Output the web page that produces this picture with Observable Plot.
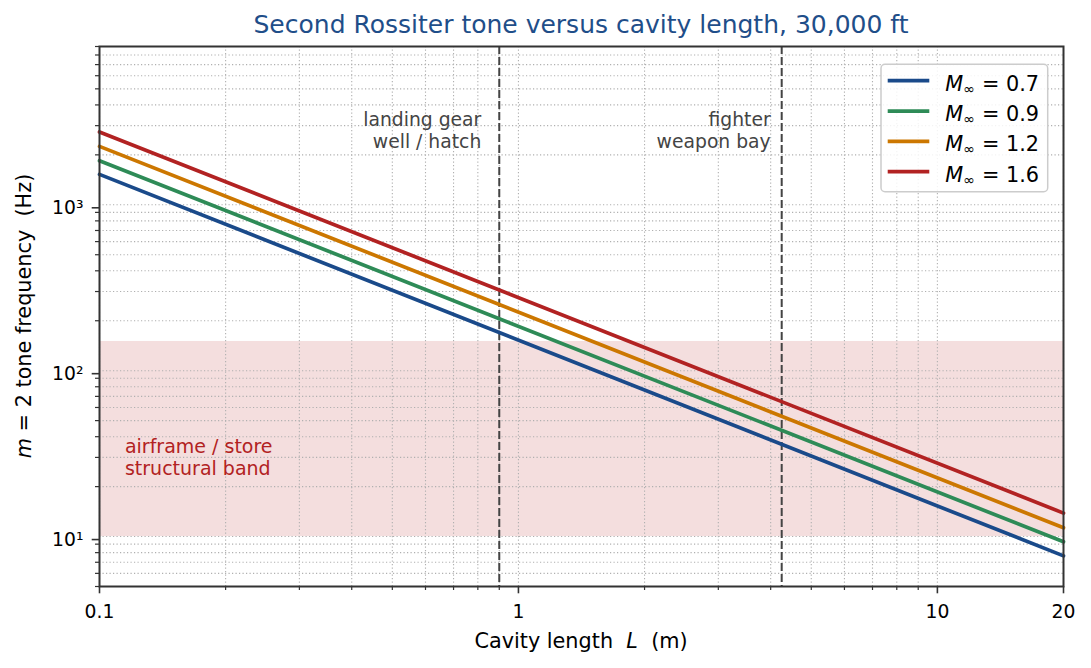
<!DOCTYPE html>
<html>
<head>
<meta charset="utf-8">
<script src="https://cdn.jsdelivr.net/npm/d3@7"></script>
<script src="https://cdn.jsdelivr.net/npm/@observablehq/plot@0.6"></script>
<style>
body { margin: 0; background: white; font-family: "DejaVu Sans", sans-serif; }
#title { height: 40px; box-sizing: border-box; padding: 10px 28px 0 99px; text-align: center;
  font-size: 25px; line-height: 1.164; color: #1f4e89; white-space: nowrap; }
</style>
</head>
<body>
<div id="title">Second Rossiter tone versus cavity length, 30,000 ft</div>
<div id="chart"></div>
<script>
// series (tone frequency in Hz at both ends of the L range)
const machLabels = ["0.7", "0.9", "1.2", "1.6"];
const lineColors = ["#1a4a8a", "#2e8b57", "#cc7700", "#b22222"];
const lengthEnds = [0.1, 20];
const freqAtShort = [1525, 1845, 2250, 2750];
const freqAtLong = [7.65, 9.3, 11.3, 13.85];

// reference cavities and structural band
const refLengths = [0.9, 4.25];
const refLabels = ["landing gear\nwell / hatch", "fighter\nweapon bay"];
const bandRange = [10, 150];
const bandLabel = "airframe / store\nstructural band";
const bandLabelAt = [0.115, 30];

// ticks
const xMajor = [0.1, 1, 10, 20];
const xMinor = [0.2, 0.3, 0.4, 0.5, 0.6, 0.7, 0.8, 0.9, 2, 3, 4, 5, 6, 7, 8, 9];
const yMajor = [10, 100, 1000];
const yMinor = [5, 6, 7, 8, 9, 20, 30, 40, 50, 60, 70, 80, 90,
  200, 300, 400, 500, 600, 700, 800, 900, 2000, 3000, 4000, 5000, 6000, 7000, 8000, 9000];

const rows = machLabels.flatMap((m, i) => [
  {mach: m, L: lengthEnds[0], f: freqAtShort[i]},
  {mach: m, L: lengthEnds[1], f: freqAtLong[i]}
]);

const sup = {1: "\u00b9", 2: "\u00b2", 3: "\u00b3"};
const gridStyle = {stroke: "#b0b0b0", strokeOpacity: 1, strokeWidth: 1.1, strokeDasharray: "1.2,2.3"};
const dx = [-18, -11];

const chart = Plot.plot({
  width: 1091,
  height: 628,
  marginTop: 6,
  marginRight: 28,
  marginBottom: 82,
  marginLeft: 99,
  style: {fontFamily: "DejaVu Sans", fontSize: "18.75px", color: "black", background: "white"},
  x: {type: "log", domain: [0.1, 20]},
  y: {type: "log", domain: [5, 9000]},
  color: {type: "ordinal", domain: machLabels, range: lineColors},
  marks: [
    Plot.rect([bandRange], {y1: d => d[0], y2: d => d[1], fill: "#b22222", fillOpacity: 0.15}),
    Plot.gridX([...xMajor, ...xMinor], gridStyle),
    Plot.gridY([...yMajor, ...yMinor], gridStyle),
    Plot.ruleX(refLengths, {stroke: "#444", strokeWidth: 2, strokeDasharray: "8,3"}),
    Plot.line(rows, {x: "L", y: "f", z: "mach", stroke: "mach", strokeWidth: 3.7}),
    ...refLabels.map((t, i) => Plot.text([t], {
      x: [refLengths[i]], frameAnchor: "top", dy: 64, dx: dx[i],
      textAnchor: "end", lineAnchor: "top", lineHeight: 1.157, fill: "#444", fontSize: 18.75
    })),
    Plot.text([bandLabel], {
      x: [bandLabelAt[0]], y: [bandLabelAt[1]], textAnchor: "start", lineAnchor: "middle",
      lineHeight: 1.157, fill: "#b22222", fontSize: 19
    }),
    Plot.axisX(xMajor, {tickSize: 7.3, tickPadding: 11, tickFormat: d => String(d), label: null,
      stroke: "#333", strokeWidth: 1.6, fill: "black", fontSize: 18.75}),
    Plot.axisX(xMinor, {tickSize: 4, tickFormat: () => "", label: null, stroke: "#333", strokeWidth: 1.2}),
    Plot.axisY(yMajor, {tickSize: 7.3, tickPadding: 8.7, dy: 3, label: null,
      tickFormat: d => "10" + sup[Math.round(Math.log10(d))],
      stroke: "#333", strokeWidth: 1.6, fill: "black", fontSize: 18.75}),
    Plot.axisY(yMinor, {tickSize: 4, tickFormat: () => "", label: null, stroke: "#333", strokeWidth: 1.2}),
    Plot.frame({stroke: "#333", strokeWidth: 2})
  ]
});

d3.select("#chart").append(() => chart);

const svg = d3.select(chart);

// axis labels
const xl = svg.append("text")
  .attr("x", 581).attr("y", 608.3)
  .attr("text-anchor", "middle")
  .style("font-size", "20.8px").style("white-space", "pre").attr("fill", "black");
xl.append("tspan").text("Cavity length  ");
xl.append("tspan").attr("font-style", "italic").text("L");
xl.append("tspan").text("  (m)");

const yl = svg.append("text")
  .attr("transform", "translate(31,276) rotate(-90)")
  .attr("text-anchor", "middle")
  .style("font-size", "20.8px").style("white-space", "pre").attr("fill", "black");
yl.append("tspan").attr("font-style", "italic").text("m");
yl.append("tspan").text(" = 2 tone frequency  (Hz)");

// legend
const lg = svg.append("g").attr("text-anchor", "start");
lg.append("rect")
  .attr("x", 881).attr("y", 24.3).attr("width", 166.7).attr("height", 127.4)
  .attr("rx", 4).attr("fill", "white").attr("fill-opacity", 0.85)
  .attr("stroke", "#cccccc").attr("stroke-width", 1.5);
machLabels.forEach((m, i) => {
  const yy = 40.7 + i * 30.33;
  lg.append("line")
    .attr("x1", 887.7).attr("x2", 929.3).attr("y1", yy).attr("y2", yy)
    .attr("stroke", lineColors[i]).attr("stroke-width", 3.7);
  const t = lg.append("text")
    .attr("x", 945.3).attr("y", yy + 10)
    .attr("text-anchor", "start")
    .style("font-size", "20.8px").style("white-space", "pre").attr("fill", "black");
  t.append("tspan").attr("font-style", "italic").text("M");
  t.append("tspan").style("font-size", "14.5px").attr("dy", 3).text("\u221e");
  t.append("tspan").attr("dy", -3).text(" = " + m);
});
</script>
</body>
</html>
